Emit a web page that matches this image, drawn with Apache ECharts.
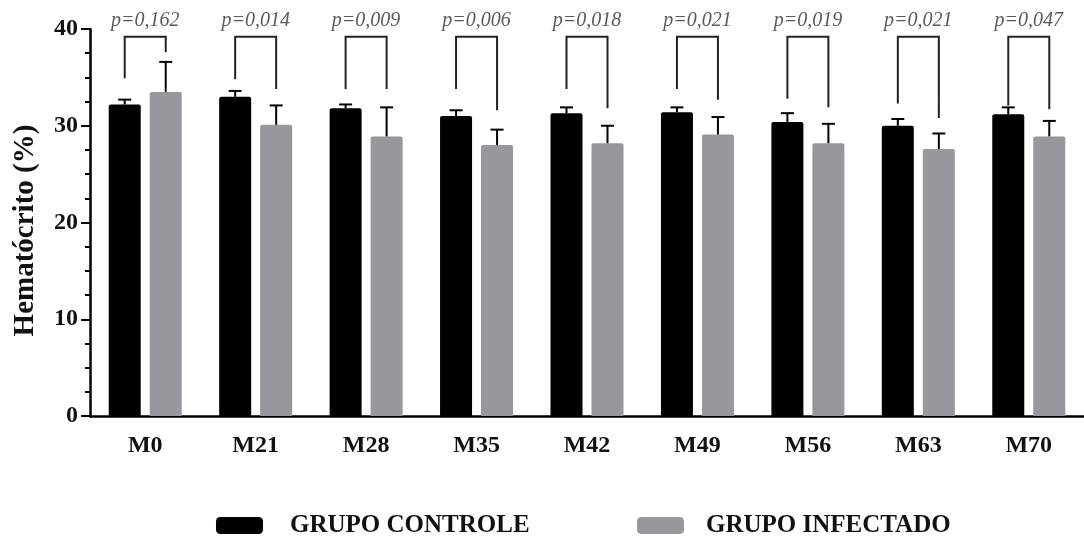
<!DOCTYPE html>
<html>
<head>
<meta charset="utf-8">
<script src="https://cdn.jsdelivr.net/npm/echarts@6/dist/echarts.min.js"></script>
<style>
  html, body { margin: 0; padding: 0; background: #fff; }
  #chart { width: 1084px; height: 541px; }
</style>
</head>
<body>
<div id="chart"></div>
<script>
// ---- data ----
const categories = ['M0', 'M21', 'M28', 'M35', 'M42', 'M49', 'M56', 'M63', 'M70'];
const pLabels = ['p=0,162', 'p=0,014', 'p=0,009', 'p=0,006', 'p=0,018', 'p=0,021', 'p=0,019', 'p=0,021', 'p=0,047'];
const controlMean = [32.2, 33.0, 31.8, 31.0, 31.3, 31.4, 30.4, 30.0, 31.2];
const controlUpper = [32.7, 33.6, 32.2, 31.6, 31.9, 31.9, 31.3, 30.7, 31.9];
const infectedMean = [33.5, 30.1, 28.9, 28.0, 28.2, 29.1, 28.2, 27.6, 28.9];
const infectedUpper = [36.6, 32.1, 31.9, 29.6, 30.0, 30.9, 30.2, 29.2, 30.5];
const bracketTop = [39.2, 39.2, 39.2, 39.2, 39.2, 39.2, 39.2, 39.2, 39.2];
const bracketLeftEnd = [34.9, 34.8, 33.8, 33.8, 33.8, 33.8, 32.8, 32.3, 32.1];
const bracketRightEnd = [37.6, 33.8, 33.8, 31.6, 31.8, 32.7, 31.9, 30.8, 31.7];
const pLabelLevel = 40.9;
const yTicks = [0, 10, 20, 30, 40];

// ---- style ----
const FONT = '"Liberation Serif", "Times New Roman", serif';
const BAR_W = 32;
const BAR_GAP = 9;
const HALF = (BAR_W + BAR_GAP) / 2;
const CAP = 6.5;

function errorBarRender(offset) {
  return function (params, api) {
    const i = api.value(0);
    const p0 = api.coord([i, api.value(1)]);
    const p1 = api.coord([i, api.value(2)]);
    const x = p0[0] + offset;
    return {
      type: 'group',
      children: [
        { type: 'line', shape: { x1: x, y1: p0[1], x2: x, y2: p1[1] }, style: { stroke: '#000', lineWidth: 2 } },
        { type: 'line', shape: { x1: x - CAP, y1: p1[1], x2: x + CAP, y2: p1[1] }, style: { stroke: '#000', lineWidth: 2 } }
      ]
    };
  };
}

const legendBase = {
  top: 508,
  icon: 'roundRect',
  itemWidth: 47,
  itemHeight: 17
};

const chart = echarts.init(document.getElementById('chart'), null, { renderer: 'canvas' });
chart.setOption({
  animation: false,
  backgroundColor: '#ffffff',
  grid: { left: 90, top: 29, bottom: 125, right: -11, containLabel: false },
  legend: [
    Object.assign({}, legendBase, {
      data: ['GRUPO CONTROLE'],
      left: 211,
      textStyle: { fontFamily: FONT, fontWeight: 'bold', fontSize: 25, color: '#111', padding: [0, 0, 0, 22] }
    }),
    Object.assign({}, legendBase, {
      data: ['GRUPO INFECTADO'],
      left: 632,
      textStyle: { fontFamily: FONT, fontWeight: 'bold', fontSize: 25, color: '#111', padding: [0, 0, 0, 17] }
    })
  ],
  xAxis: {
    type: 'category',
    data: categories,
    boundaryGap: true,
    axisLine: { lineStyle: { color: '#000', width: 2.5 } },
    axisTick: { alignWithLabel: true, length: 11, lineStyle: { color: '#000', width: 2.5 } },
    axisLabel: { fontFamily: FONT, fontWeight: 'bold', fontSize: 24, color: '#111', margin: 18 }
  },
  yAxis: {
    type: 'value',
    min: 0,
    max: 40,
    interval: 10,
    name: 'Hematócrito (%)',
    nameLocation: 'middle',
    nameGap: 50,
    nameTextStyle: { fontFamily: FONT, fontWeight: 'bold', fontSize: 29, color: '#111', padding: [0, 16, 0, 0] },
    axisLine: { show: true, lineStyle: { color: '#000', width: 2.5 } },
    axisTick: { show: true, length: 9, lineStyle: { color: '#000', width: 2 } },
    minorTick: { show: true, splitNumber: 4, length: 5, lineStyle: { color: '#000', width: 2 } },
    splitLine: { show: false },
    axisLabel: {
      fontFamily: FONT, fontWeight: 'bold', fontSize: 24, color: '#111', margin: 12,
      formatter: function (v) { return yTicks.indexOf(v) >= 0 ? String(v) : ''; }
    }
  },
  series: [
    {
      name: 'GRUPO CONTROLE',
      type: 'bar',
      data: controlMean,
      barWidth: BAR_W,
      barGap: (BAR_GAP / BAR_W * 100) + '%',
      itemStyle: { color: '#000000', borderRadius: [2, 2, 0, 0] },
      z: 2
    },
    {
      name: 'GRUPO INFECTADO',
      type: 'bar',
      data: infectedMean,
      barWidth: BAR_W,
      itemStyle: { color: '#98989c', borderRadius: [2, 2, 0, 0] },
      z: 2
    },
    {
      type: 'custom',
      name: 'errControl',
      renderItem: errorBarRender(-HALF),
      data: categories.map((c, i) => [i, controlMean[i], controlUpper[i]]),
      z: 3,
      silent: true
    },
    {
      type: 'custom',
      name: 'errInfected',
      renderItem: errorBarRender(HALF),
      data: categories.map((c, i) => [i, infectedMean[i], infectedUpper[i]]),
      z: 3,
      silent: true
    },
    {
      type: 'custom',
      name: 'brackets',
      silent: true,
      z: 4,
      clip: false,
      renderItem: function (params, api) {
        const i = api.value(0);
        const pl = api.coord([i, api.value(1)]);
        const pr = api.coord([i, api.value(2)]);
        const pt = api.coord([i, api.value(3)]);
        const pp = api.coord([i, pLabelLevel]);
        const xl = pl[0] - HALF, xr = pl[0] + HALF;
        return {
          type: 'group',
          children: [
            {
              type: 'polyline',
              shape: { points: [[xl, pl[1]], [xl, pt[1]], [xr, pt[1]], [xr, pr[1]]] },
              style: { stroke: '#222', lineWidth: 2, fill: null }
            },
            {
              type: 'text',
              style: {
                x: pp[0], y: pp[1],
                text: pLabels[i],
                align: 'center', verticalAlign: 'middle',
                fontFamily: FONT, fontStyle: 'italic', fontSize: 20, fill: '#5a5a5a'
              }
            }
          ]
        };
      },
      data: categories.map((c, i) => [i, bracketLeftEnd[i], bracketRightEnd[i], bracketTop[i]])
    }
  ]
});
</script>
</body>
</html>
